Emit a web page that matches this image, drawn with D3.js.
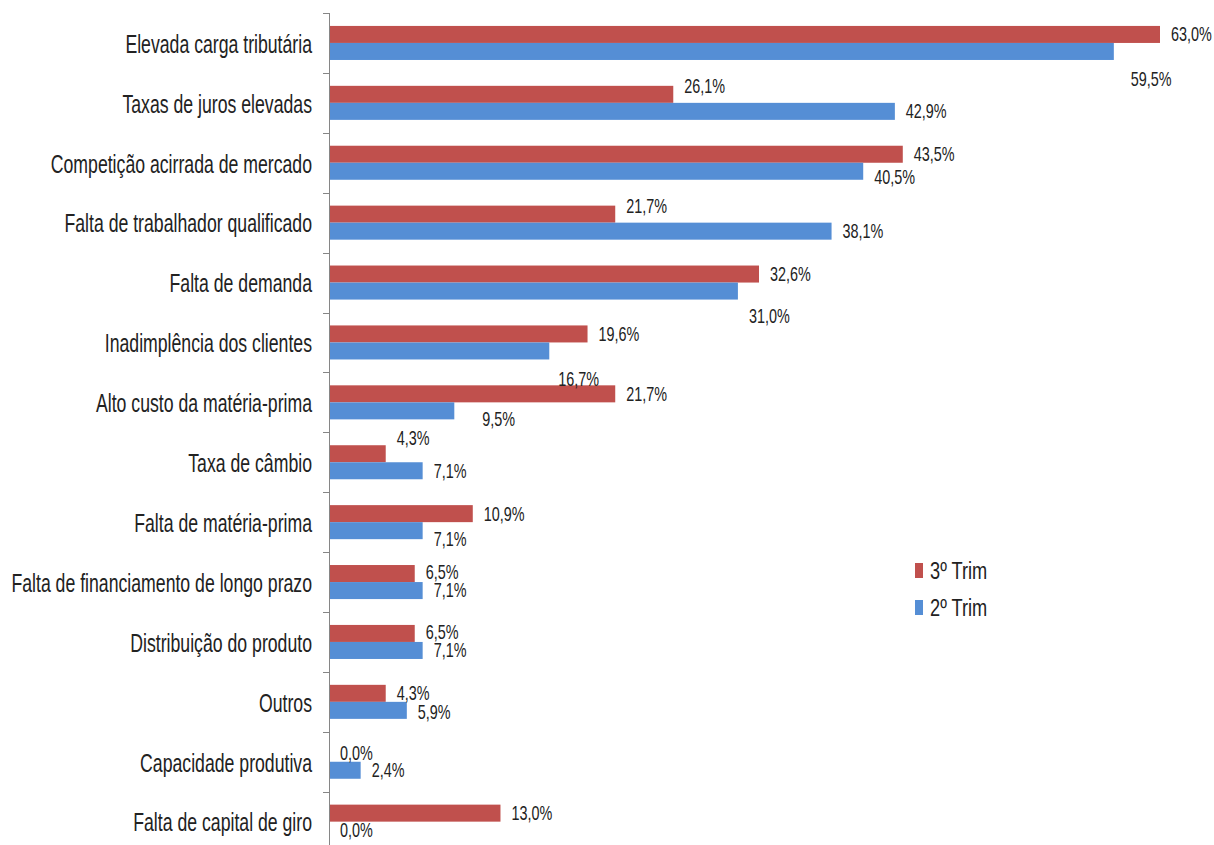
<!DOCTYPE html>
<html><head><meta charset="utf-8">
<script src="https://cdn.jsdelivr.net/npm/d3@7"></script>
<style>body{margin:0;background:#fff}svg{display:block}</style>
</head><body>
<svg id="c" width="1214" height="845"></svg>
<script>
const categories = ["Elevada carga tributária","Taxas de juros elevadas","Competição acirrada de mercado","Falta de trabalhador qualificado","Falta de demanda","Inadimplência dos clientes","Alto custo da matéria-prima","Taxa de câmbio","Falta de matéria-prima","Falta de financiamento de longo prazo","Distribuição do produto","Outros","Capacidade produtiva","Falta de capital de giro"];
const seriesNames = ["3º Trim","2º Trim"];
const trim3 = [63.0,26.1,43.5,21.7,32.6,19.6,21.7,4.3,10.9,6.5,6.5,4.3,0.0,13.0];
const trim2 = [59.5,42.9,40.5,38.1,31.0,16.7,9.5,7.1,7.1,7.1,7.1,5.9,2.4,0.0];
const colors = ["#C0504D","#558ED5"];

const svg = d3.select("#c");
const FONT = "'Liberation Sans', Arial, sans-serif";
const x = d3.scaleLinear().domain([0,63]).range([329,1160]);
const y = d3.scaleBand().domain(categories).range([13, 13+14*59.9]);
const ys = d3.scaleBand().domain(seriesNames).range([0,y.bandwidth()]).paddingOuter(0.76);

const data = [];
categories.forEach((c,i)=>{
  data.push({cat:c, s:seriesNames[0], v:trim3[i], i, k:0});
  data.push({cat:c, s:seriesNames[1], v:trim2[i], i, k:1});
});

svg.append("g").selectAll("rect").data(data).join("rect")
  .attr("x", x(0)+1)
  .attr("y", d=>y(d.cat)+ys(d.s))
  .attr("width", d=>Math.max(0,x(d.v)-x(0)-1))
  .attr("height", ys.bandwidth())
  .attr("fill", d=>colors[d.k]);

// axis
const ax = svg.append("g").attr("stroke","#868686").attr("stroke-width",1);
ax.append("line").attr("x1",329.5).attr("x2",329.5).attr("y1",13).attr("y2",845);
const bounds = categories.map(c=>y(c)).concat([y.range()[1]]);
ax.selectAll("line.t").data(bounds).join("line").attr("class","t")
  .attr("x1",323).attr("x2",329.5).attr("y1",d=>Math.round(d)+0.5).attr("y2",d=>Math.round(d)+0.5);

// category labels
const CS = 0.68;
svg.append("g").selectAll("g").data(categories).join("g")
  .attr("transform", c=>`translate(312,${y(c)+y.bandwidth()/2+1}) scale(${CS},1)`)
  .append("text").attr("text-anchor","end").attr("dominant-baseline","central")
  .style("font-family",FONT).style("font-size","26px").attr("fill","#222").text(c=>c);

// value labels (with Excel's displaced positions)
const adj = {"0-1":[6,28],"1-0":[0,-8],"2-1":[0,6],"3-0":[0,-8],"4-1":[0,25],"5-1":[-2,28],"6-1":[17,8],"7-0":[0,-16],"8-1":[0,8],"11-1":[0,2],"9-0":[0,-1],"9-1":[0,0],"10-0":[0,-1],"10-1":[0,0]};
const VS = 0.72;
svg.append("g").selectAll("g").data(data).join("g")
  .attr("transform", d=>{
    const a = adj[d.i+"-"+d.k]||[0,0];
    return `translate(${x(d.v)+11+a[0]},${y(d.cat)+ys(d.s)+ys.bandwidth()/2+a[1]}) scale(${VS},1)`;})
  .append("text").attr("dominant-baseline","central")
  .style("font-family",FONT).style("font-size","20px").attr("fill","#222")
  .text(d=>d.v.toFixed(1).replace(".",",")+"%");

// legend
const lg = svg.append("g");
seriesNames.forEach((s,k)=>{
  const yy = 571 + k*37;
  lg.append("rect").attr("x",915).attr("y",yy-8).attr("width",8).attr("height",15).attr("fill",colors[k]);
  lg.append("g").attr("transform",`translate(930,${yy}) scale(0.76,1)`)
    .append("text").attr("dominant-baseline","central")
    .style("font-family",FONT).style("font-size","24px").attr("fill","#222").text(s);
});
</script>
</body></html>
